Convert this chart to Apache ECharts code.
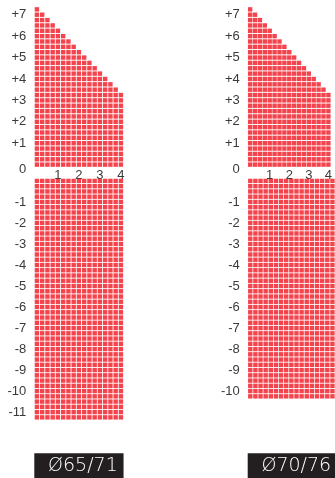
<!DOCTYPE html>
<html>
<head>
<meta charset="utf-8">
<script src="https://cdn.jsdelivr.net/npm/echarts@6/dist/echarts.min.js"></script>
<style>
html,body{margin:0;padding:0;background:#fff;}
#chart{width:335px;height:478px;}
</style>
</head>
<body>
<div id="chart"></div>
<script>
// Cylinder columns (x axis), 0.25 D steps
const cylValues = [0,0.25,0.5,0.75,1,1.25,1.5,1.75,2,2.25,2.5,2.75,3,3.25,3.5,3.75,4];
const cylTickLabels = [1,2,3,4];

// Plus sphere rows (both panels) and max cylinder available per row
const plusSph = [7.25,7,6.75,6.5,6.25,6,5.75,5.5,5.25,5,4.75,4.5,4.25,4,3.75,3.5,3.25,3,2.75,2.5,2.25,2,1.75,1.5,1.25,1,0.75,0.5,0.25,0];
const plusMaxCyl = [0,0.25,0.5,0.75,1,1.25,1.5,1.75,2,2.25,2.5,2.75,3,3.25,3.5,3.75,4,4,4,4,4,4,4,4,4,4,4,4,4,4];

// Minus sphere rows, left panel (Ø65/71)
const minusSphLeft = [0,-0.25,-0.5,-0.75,-1,-1.25,-1.5,-1.75,-2,-2.25,-2.5,-2.75,-3,-3.25,-3.5,-3.75,-4,-4.25,-4.5,-4.75,-5,-5.25,-5.5,-5.75,-6,-6.25,-6.5,-6.75,-7,-7.25,-7.5,-7.75,-8,-8.25,-8.5,-8.75,-9,-9.25,-9.5,-9.75,-10,-10.25,-10.5,-10.75,-11,-11.25];
const minusMaxCylLeft = [4,4,4,4,4,4,4,4,4,4,4,4,4,4,4,4,4,4,4,4,4,4,4,4,4,4,4,4,4,4,4,4,4,4,4,4,4,4,4,4,4,4,4,4,4,4];

// Minus sphere rows, right panel (Ø70/76)
const minusSphRight = [0,-0.25,-0.5,-0.75,-1,-1.25,-1.5,-1.75,-2,-2.25,-2.5,-2.75,-3,-3.25,-3.5,-3.75,-4,-4.25,-4.5,-4.75,-5,-5.25,-5.5,-5.75,-6,-6.25,-6.5,-6.75,-7,-7.25,-7.5,-7.75,-8,-8.25,-8.5,-8.75,-9,-9.25,-9.5,-9.75,-10,-10.25];
const minusMaxCylRight = [4,4,4,4,4,4,4,4,4,4,4,4,4,4,4,4,4,4,4,4,4,4,4,4,4,4,4,4,4,4,4,4,4,4,4,4,4,4,4,4,4,4];

// Sphere tick labels
const plusSphTicks = [7,6,5,4,3,2,1,0];
const minusSphTicksLeft = [-1,-2,-3,-4,-5,-6,-7,-8,-9,-10,-11];
const minusSphTicksRight = [-1,-2,-3,-4,-5,-6,-7,-8,-9,-10];

const panelNames = ['Ø65/71','Ø70/76'];

function cells(sphRows, maxCyl){
  const out = [];
  sphRows.forEach((s, i) => {
    cylValues.forEach(c => { if (c <= maxCyl[i] + 1e-9) out.push([c, s]); });
  });
  return out;
}

const RED = '#f01520';
const PITCH_X = 5.25;
const PITCH_Y_TOP = 5.353;
const PITCH_Y_BOT = 5.254;
const gridW = PITCH_X * cylValues.length;
const topY = 6.7, botY = 178.3;
const leftX = [34.3, 247.7];
const FONT = 'Liberation Sans, Arial, sans-serif';
const TXT = '#3a3a3a';

const grids = [], xAxes = [], yAxes = [], series = [];

function labelFmt(v){
  if (v === 0) return '{z|0}';
  return v > 0 ? '+' + v : String(v);
}

function addPart(px, top, rows, pitchY, yMin, yMax, ticks, showX, data){
  const idx = grids.length;
  grids.push({left: px, top: top, width: gridW, height: rows * pitchY});
  xAxes.push({
    gridIndex: idx, type: 'value', min: -0.125, max: 4.125,
    axisLine: {show: false}, axisTick: {show: false}, splitLine: {show: false},
    axisLabel: {show: showX, customValues: cylTickLabels, margin: 2, color: TXT, fontSize: 13, fontFamily: FONT}
  });
  yAxes.push({
    gridIndex: idx, type: 'value', min: yMin, max: yMax,
    axisLine: {show: false}, axisTick: {show: false}, splitLine: {show: false},
    axisLabel: {
      customValues: ticks, margin: 8, color: TXT, fontSize: 13,
      fontFamily: FONT,
      formatter: labelFmt,
      rich: {z: {padding: [10, 0, 0, 0], color: TXT, fontSize: 13, fontFamily: FONT}}
    }
  });
  series.push({
    type: 'scatter', xAxisIndex: idx, yAxisIndex: idx, data: data,
    symbol: 'rect', symbolSize: [4.4, 4.4], silent: true,
    itemStyle: {color: RED}
  });
}

// Left panel
addPart(leftX[0], topY, plusSph.length, PITCH_Y_TOP, -0.125, 7.375, plusSphTicks, true, cells(plusSph, plusMaxCyl));
addPart(leftX[0], botY, minusSphLeft.length, PITCH_Y_BOT, -11.375, 0.125, minusSphTicksLeft, false, cells(minusSphLeft, minusMaxCylLeft));
// Right panel
addPart(leftX[1], topY, plusSph.length, PITCH_Y_TOP, -0.125, 7.375, plusSphTicks, true, cells(plusSph, plusMaxCyl));
addPart(leftX[1], botY, minusSphRight.length, PITCH_Y_BOT, -10.375, 0.125, minusSphTicksRight, false, cells(minusSphRight, minusMaxCylRight));

const graphic = [];
[0,1].forEach(i => {
  graphic.push({type: 'rect', left: leftX[i], top: 453.3, shape: {width: gridW, height: 25}, style: {fill: '#231f20'}, silent: true});
  graphic.push({type: 'text', x: leftX[i] + gridW / 2 + 4, y: 466, style: {text: panelNames[i], fill: '#fff', font: '300 19px "DejaVu Sans", sans-serif', align: 'center', verticalAlign: 'middle'}, silent: true});
});

const chart = echarts.init(document.getElementById('chart'), null, {renderer: 'canvas'});
chart.setOption({
  animation: false,
  backgroundColor: '#fff',
  grid: grids, xAxis: xAxes, yAxis: yAxes, series: series,
  graphic: graphic
});
</script>
</body>
</html>
